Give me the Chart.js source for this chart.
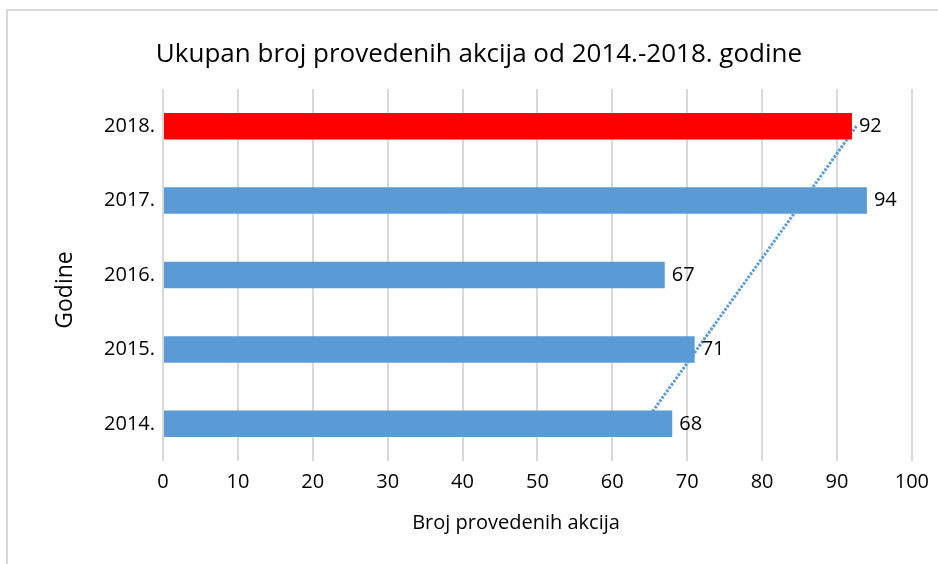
<!DOCTYPE html>
<html>
<head>
<meta charset="utf-8">
<script src="https://cdn.jsdelivr.net/npm/chart.js@4/dist/chart.umd.min.js"></script>
<style>
  body { margin: 0; background: #fff; }
  #wrap { position: absolute; left: 0; top: 0; width: 938px; height: 564px; }
</style>
</head>
<body>
<div id="wrap"><canvas id="chart"></canvas></div>
<script>
var years = ["2018.", "2017.", "2016.", "2015.", "2014."];
var actions = [92, 94, 67, 71, 68];
var barColors = ["#ff0000", "#5b9bd5", "#5b9bd5", "#5b9bd5", "#5b9bd5"];
// linear trendline (2018 -> 2014)
var trend = [92.6, 85.5, 78.4, 71.3, 64.2];
var xTicks = [0, 10, 20, 30, 40, 50, 60, 70, 80, 90, 100];

var chartTitle = "Ukupan broj provedenih akcija od 2014.-2018. godine";
var xTitle = "Broj provedenih akcija";
var yTitle = "Godine";

var fontFamily = "'Open Sans', 'Noto Sans', sans-serif";

// grey frame of the chart box + titles (Excel places them off-centre)
var framePlugin = {
    id: "frame",
    beforeDraw: function(chart) {
        var ctx = chart.ctx;
        ctx.save();
        ctx.strokeStyle = "#d9d9d9";
        ctx.lineWidth = 2;
        ctx.beginPath();
        ctx.moveTo(7, 570);
        ctx.lineTo(7, 10);
        ctx.lineTo(945, 10);
        ctx.stroke();

        ctx.fillStyle = "#000";
        ctx.textBaseline = "alphabetic";
        ctx.textAlign = "center";
        ctx.font = "26px " + fontFamily;
        ctx.fillText(chartTitle, 479, 62);

        ctx.font = "20px " + fontFamily;
        ctx.fillText(xTitle, 516, 529);

        ctx.translate(72, 290);
        ctx.rotate(-Math.PI / 2);
        ctx.font = "23px " + fontFamily;
        ctx.fillText(yTitle, 0, 0);
        ctx.restore();
    }
};

// value labels right of each bar
var labelPlugin = {
    id: "valueLabels",
    afterDatasetsDraw: function(chart) {
        var ctx = chart.ctx;
        var meta = chart.getDatasetMeta(0);
        ctx.save();
        ctx.font = "20px " + fontFamily;
        ctx.fillStyle = "#000";
        ctx.textAlign = "left";
        ctx.textBaseline = "middle";
        meta.data.forEach(function(bar, i) {
            ctx.fillText(actions[i], bar.x + 7, bar.y);
        });
        ctx.restore();
    }
};

var ctx = document.getElementById("chart");
var myChart = new Chart(ctx, {
    data: {
        labels: years,
        datasets: [{
            type: "bar",
            data: actions,
            backgroundColor: barColors,
            barPercentage: 0.356,
            categoryPercentage: 1,
            order: 1
        }, {
            type: "line",
            data: trend,
            borderColor: "#5b9bd5",
            borderWidth: 3,
            borderDash: [2.5, 1.5],
            pointRadius: 0,
            fill: false,
            order: 2
        }]
    },
    options: {
        indexAxis: "y",
        responsive: true,
        maintainAspectRatio: false,
        animation: false,
        layout: { padding: { left: 8, right: 25, top: 89, bottom: 0 } },
        plugins: {
            legend: { display: false },
            tooltip: { enabled: false },
            title: { display: false }
        },
        scales: {
            x: {
                min: 0,
                max: 100,
                afterBuildTicks: function(s) {
                    s.ticks = xTicks.map(function(v) { return { value: v }; });
                },
                afterFit: function(s) { s.height = 103; },
                grid: { color: "#d9d9d9", lineWidth: 2, drawTicks: false },
                border: { display: false },
                ticks: { color: "#000", padding: 9, font: { family: fontFamily, size: 20 } }
            },
            y: {
                afterFit: function(s) { s.width = 155; },
                grid: { display: false, drawTicks: false },
                border: { display: false },
                ticks: { color: "#000", padding: 8, font: { family: fontFamily, size: 20 } }
            }
        }
    },
    plugins: [framePlugin, labelPlugin]
});
</script>
</body>
</html>
